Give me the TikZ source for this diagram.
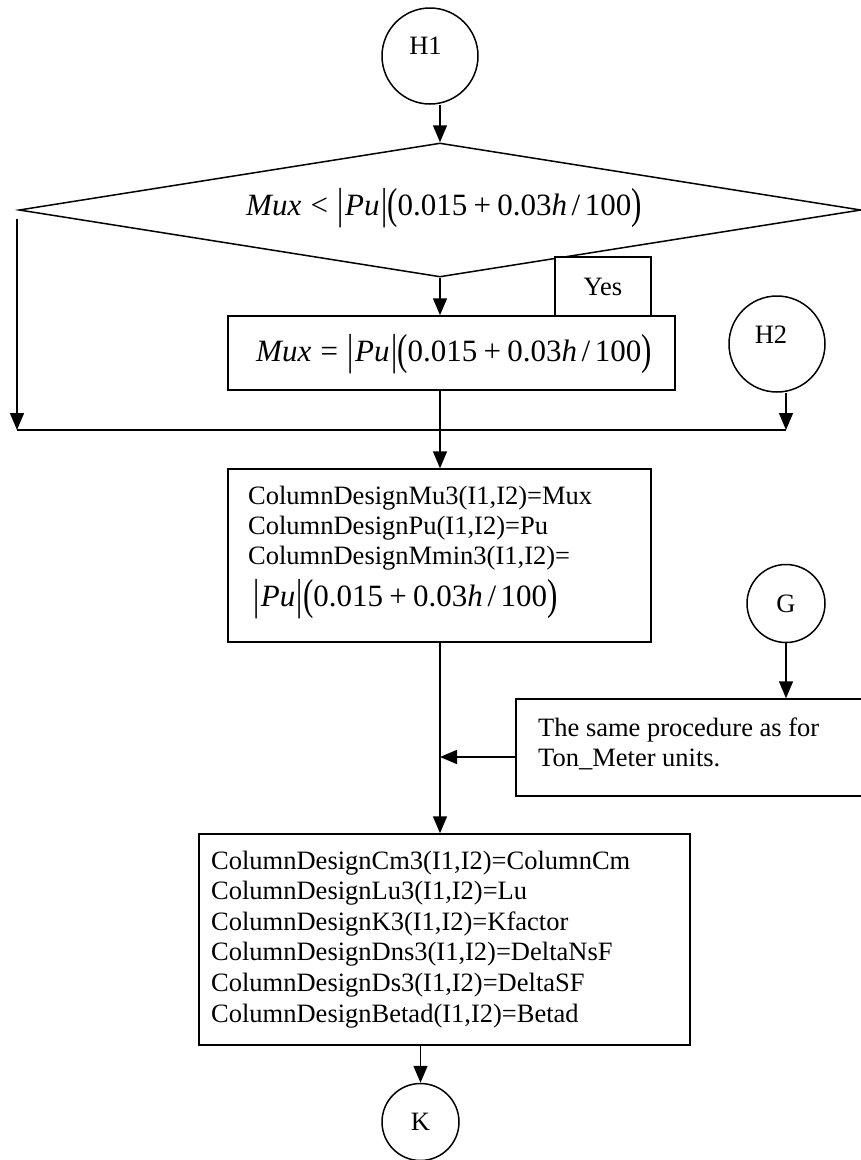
\documentclass[tikz,border=0pt]{standalone}
\usepackage{fontspec}
\setmainfont{Liberation Serif}
\usepackage{graphicx}
\usetikzlibrary{shapes.geometric,arrows.meta,calc}

\newcommand{\tallg}[1]{\raisebox{-0.1em}{\scalebox{1}[1.4]{#1}}}
\newcommand{\pufml}{\tallg{|}\hspace{0.05em}\textit{Pu}\hspace{0.05em}\tallg{|}\tallg{(}0.015\hspace{0.2em}+\hspace{0.2em}0.03\textit{h}\hspace{0.15em}/\hspace{0.15em}100\tallg{)}}

\begin{document}
\begin{tikzpicture}[x=1pt,y=-1pt,
  every node/.style={font=\fontsize{26.5}{30.5}\selectfont, inner sep=0pt},
  line/.style={line width=1.5pt},
  arr/.style={line width=1.5pt, -{Triangle[length=17pt,width=14pt]}},
  conn/.style={draw, line width=1.5pt, circle, minimum size=96pt},
  box/.style={draw, line width=1.5pt, rectangle},
  fml/.style={font=\fontsize{31}{36}\selectfont}
]
\useasboundingbox (0,0) rectangle (861,1160);

% top connector
\node[conn] (H1) at (430,56) {};
\node (H1t) at (425.5,46) {H1};

% decision
\node[draw, line width=1.5pt, diamond, aspect=6.28, minimum width=842pt, minimum height=134pt] (dia) at (440,210) {};
\node[fml, anchor=base] (diat) at (444,215) {\textit{Mux}\hspace{0.3em}<\hspace{0.3em}\pufml};
\draw[arr] (dia.north |- H1.south) -- (dia.north);

% yes branch
\node[box, fill=white, minimum width=96pt, minimum height=59pt] (yes) at (603,286.5) {Yes};
\node[box, minimum width=447pt, minimum height=74pt] (mux) at (451.5,353) {};
\node[fml, anchor=base] (muxt) at (454,361) {\textit{Mux}\hspace{0.3em}=\hspace{0.3em}\pufml};
\draw[arr] (dia.south) -- (dia.south |- mux.north);

% H2 connector
\node[conn] (H2) at (777,344) {};
\node (H2t) at (771,334.5) {H2};

% join line
\coordinate (ls) at (17,219);
\coordinate (jl) at (17,430);
\coordinate (jr) at (786,430);
\draw[line] (jl) -- (jr);
\draw[arr] (ls) -- (jl);
\draw[arr] (jr |- H2.south) -- (jr);

% box 2
\node[box, minimum width=423pt, minimum height=173pt] (b2) at (439.5,555.5) {};
\node[anchor=base west] (b2a) at (248,504) {ColumnDesignMu3(I1,I2)=Mux};
\node[anchor=base west] (b2b) at (248,534) {ColumnDesignPu(I1,I2)=Pu};
\node[anchor=base west] (b2c) at (248,564) {ColumnDesignMmin3(I1,I2)=};
\node[fml, anchor=base west] (b2d) at (253,606) {\pufml};
\draw[arr] (dia.south |- mux.south) -- (dia.south |- b2.north);

% G connector and box 4
\node[conn, minimum size=78pt] (G) at (786,603.5) {G};
\node[box, minimum width=354pt, minimum height=97pt] (b4) at (693,747.5) {};
\node[anchor=base west] (b4a) at (538,736) {The same procedure as for};
\node[anchor=base west] (b4b) at (538,766.5) {Ton\_Meter units.};
\draw[arr] (G.south) -- (G.south |- b4.north);

% box 3
\node[box, minimum width=491pt, minimum height=211pt] (b3) at (444.5,939.5) {};
\node[anchor=base west] (b3a) at (211,869) {ColumnDesignCm3(I1,I2)=ColumnCm};
\node[anchor=base west] (b3b) at (211,899.6) {ColumnDesignLu3(I1,I2)=Lu};
\node[anchor=base west] (b3c) at (211,930.2) {ColumnDesignK3(I1,I2)=Kfactor};
\node[anchor=base west] (b3d) at (211,960.8) {ColumnDesignDns3(I1,I2)=DeltaNsF};
\node[anchor=base west] (b3e) at (211,991.4) {ColumnDesignDs3(I1,I2)=DeltaSF};
\node[anchor=base west] (b3f) at (211,1022) {ColumnDesignBetad(I1,I2)=Betad};
\draw[arr] (dia.south |- b2.south) -- (dia.south |- b3.north);
\draw[arr] ([yshift=-9.5pt]b4.west) -- ([yshift=-9.5pt]b4.west -| dia.south);

% K connector
\node[conn, minimum size=77pt] (K) at (420.5,1122) {K};
\draw[arr] (K.north |- b3.south) -- (K.north);
\end{tikzpicture}
\end{document}
